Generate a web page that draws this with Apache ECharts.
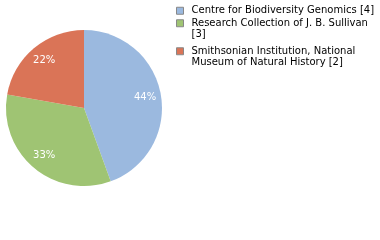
<!DOCTYPE html>
<html><head><meta charset="utf-8">
<script src="https://cdn.jsdelivr.net/npm/echarts@6/dist/echarts.min.js"></script>
<style>html,body{margin:0;padding:0;background:#fff}#c{width:380px;height:240px}</style>
</head><body><div id="c"></div>
<script>
const names = ["Centre for Biodiversity Genomics [4]", "Research Collection of J. B. Sullivan [3]", "Smithsonian Institution, National Museum of Natural History [2]"];
const legendLines = [["Centre for Biodiversity Genomics [4]"], ["Research Collection of J. B. Sullivan", "[3]"], ["Smithsonian Institution, National", "Museum of Natural History [2]"]];
const values = [4, 3, 2];
const colors = ["#9bb9df", "#9fc473", "#da7457"];

const chart = echarts.init(document.getElementById('c'), null, {renderer: 'canvas'});
const total = values.reduce((a, b) => a + b, 0);
const data = names.map((n, i) => ({name: n, value: values[i], itemStyle: {color: colors[i]}}));
const font = 'DejaVu Sans';
const legendTops = [5, 18, 46];
const legends = names.map((n, i) => ({
  data: [n], left: 176, top: legendTops[i] - (legendLines[i].length > 1 ? 12 : 0), orient: 'vertical',
  itemWidth: 7, itemHeight: 7, itemGap: 0, padding: 0, selectedMode: false,
  icon: 'rect',
  itemStyle: {borderColor: '#888', borderWidth: 1},
  textStyle: {fontFamily: font, fontSize: 10, color: '#000', lineHeight: 11.5, padding: [0,0,0,3]},
  formatter: () => (legendLines[i].length > 1 ? '\n' : '') + legendLines[i].join('\n')
}));
chart.setOption({
  animation: false,
  legend: legends,
  series: [{
    type: 'pie', center: [84, 108], radius: 78, startAngle: 90, clockwise: true,
    data: data, label: {show: false}, labelLine: {show: false},
    itemStyle: {borderWidth: 0}
  }, {
    type: 'pie', center: [84, 108], radius: [40, 78], startAngle: 90, clockwise: true,
    silent: true, legendHoverLink: false,
    data: names.map((n, i) => ({name: n, value: values[i], itemStyle: {color: 'rgba(0,0,0,0)'}})),
    label: {show: true, position: 'inside', color: '#fff', fontFamily: font, fontSize: 10,
      formatter: p => Math.round(p.value / total * 100) + '%'},
    labelLine: {show: false}
  }]
});
</script></body></html>
